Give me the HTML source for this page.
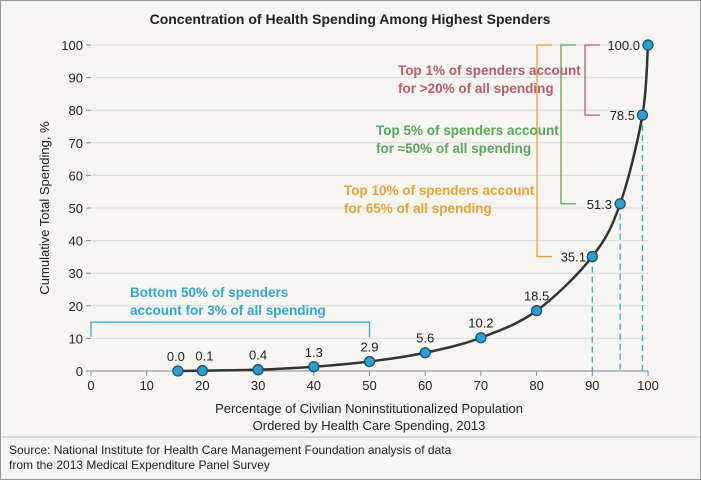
<!DOCTYPE html>
<html><head><meta charset="utf-8"><style>
body{margin:0;background:#f6f5f1;}
svg{display:block;font-family:"Liberation Sans",sans-serif;}
</style></head><body>
<svg id="chart" width="701" height="480" viewBox="0 0 701 480">
<rect x="0.5" y="0.5" width="700" height="479" fill="#f6f5f1" stroke="#999"/>
<text x="350" y="24" text-anchor="middle" font-size="14" font-weight="bold" fill="#222">Concentration of Health Spending Among Highest Spenders</text>
<g id="grid"></g>
<g id="axes"></g>
<g id="annot"></g>
<g id="series"></g>
<text transform="translate(49,208) rotate(-90)" text-anchor="middle" font-size="13" fill="#222">Cumulative Total Spending, %</text>
<text x="369" y="413" text-anchor="middle" font-size="13" fill="#222">Percentage of Civilian Noninstitutionalized Population</text>
<text x="369" y="430" text-anchor="middle" font-size="13" fill="#222">Ordered by Health Care Spending, 2013</text>
<line x1="1" y1="437" x2="700" y2="437" stroke="#bbb"/>
<text x="9" y="454" font-size="12" fill="#222">Source: National Institute for Health Care Management Foundation analysis of data</text>
<text x="9" y="469" font-size="12" fill="#222">from the 2013 Medical Expenditure Panel Survey</text>
</svg>
<script>
const xValues=[15.6,20,30,40,50,60,70,80,90,95,99,100];
const yValues=[0.0,0.1,0.4,1.3,2.9,5.6,10.2,18.5,35.1,51.3,78.5,100.0];
const xTicks=[0,10,20,30,40,50,60,70,80,90,100];
const yTicks=[0,10,20,30,40,50,60,70,80,90,100];
const NS="http://www.w3.org/2000/svg";
const X=v=>91+v*5.57, Y=v=>371-v*3.26;
function mk(p,tag,a,txt){const e=document.createElementNS(NS,tag);for(const k in a)e.setAttribute(k,a[k]);if(txt!==undefined)e.textContent=txt;document.getElementById(p).appendChild(e);return e;}
yTicks.forEach(t=>{
 const g=mk('grid','line',{x1:X(0),x2:X(100),y1:Y(t),y2:Y(t),stroke:t===0?'#888':'#dcdcd8'});
 
 
 const tk=mk('axes','line',{x1:X(0)-5,x2:X(0),y1:Y(t),y2:Y(t),stroke:'#888'});
 
 
 const l=mk('axes','text',{x:X(0)-8,y:Y(t)+5,'text-anchor':'end','font-size':13,fill:'#222'},t);
 
 
});
xTicks.forEach(t=>{
 const tk=mk('axes','line',{x1:X(t),x2:X(t),y1:Y(0),y2:Y(0)+5,stroke:'#888'});
 
 
 const l=mk('axes','text',{x:X(t),y:Y(0)+19,'text-anchor':'middle','font-size':13,fill:'#222'},t);
 
 
});
// annotations
function poly(pts,c,name){const e=mk('annot','polyline',{points:pts.map(p=>p.join(',')).join(' '),fill:'none',stroke:c,'stroke-width':1.3});}
const blue='#2ea8d6',red='#b85c68',green='#58a85a',orange='#eba038';
poly([[X(0),Y(10.5)],[X(0),Y(15)],[X(50),Y(15)],[X(50),Y(10.5)]],blue,'bottom50-bracket');
poly([[552,Y(100)],[537,Y(100)],[537,Y(35.1)],[552,Y(35.1)]],orange,'top10-bracket');
poly([[576,Y(100)],[561,Y(100)],[561,Y(51.3)],[576,Y(51.3)]],green,'top5-bracket');
poly([[600,Y(100)],[585,Y(100)],[585,Y(78.5)],[600,Y(78.5)]],red,'top1-bracket');
[[blue,130,297,'Bottom 50% of spenders'],[blue,130,315,'account for 3% of all spending'],
 [red,398,75,'Top 1% of spenders account'],[red,398,93,'for >20% of all spending'],
 [green,376,135,'Top 5% of spenders account'],[green,376,153,'for ≈50% of all spending'],
 [orange,344,195,'Top 10% of spenders account'],[orange,344,213,'for 65% of all spending']].forEach(a=>{
 const e=mk('annot','text',{x:a[1],y:a[2],'font-size':13.5,fill:a[0],'font-weight':'bold'},a[3]);
 
 
});
// dashed drops
[8,9,10].forEach(i=>{
 const e=mk('series','line',{x1:X(xValues[i]),x2:X(xValues[i]),y1:Y(yValues[i]),y2:Y(0),stroke:blue,'stroke-width':1.3,'stroke-dasharray':'6,4'});
 
 
});
// curve
const P=xValues.map((x,i)=>[X(x),Y(yValues[i])]);
let d='M'+P[0].join(',');
for(let i=0;i<P.length-1;i++){const p0=P[i-1]||P[i],p1=P[i],p2=P[i+1],p3=P[i+2]||p2;
 const c1=[p1[0]+(p2[0]-p0[0])/6,p1[1]+(p2[1]-p0[1])/6],c2=[p2[0]-(p3[0]-p1[0])/6,p2[1]-(p3[1]-p1[1])/6];
 d+=` C${c1} ${c2} ${p2}`;}
const cv=mk('series','path',{d:d,fill:'none',stroke:'#333','stroke-width':2.5});


P.forEach((p,i)=>{
 const c=mk('series','circle',{cx:p[0],cy:p[1],r:5,fill:'#2a9fd0',stroke:'#1d4f6e','stroke-width':1.3});
 
 
 let lx,ly,anc;
 if(i>=8){lx=p[0]-10;ly=p[1]+5;anc='end';if(i>=9)lx=p[0]-8;}
 else{lx=p[0];ly=p[1]-10;anc='middle';if(i===0)lx=p[0]-2;if(i===1)lx=p[0]+2;}
 if(i>=8)lx=Math.min(lx,[552,576,600,600][i-8]+36);
 if(i===8)lx=586; if(i===9)lx=612; if(i===10)lx=635; if(i===11)lx=640;
 const t=mk('series','text',{x:lx,y:ly,'text-anchor':anc,'font-size':13,fill:'#222'},yValues[i].toFixed(1));
 
 
});
</script>
</body></html>
